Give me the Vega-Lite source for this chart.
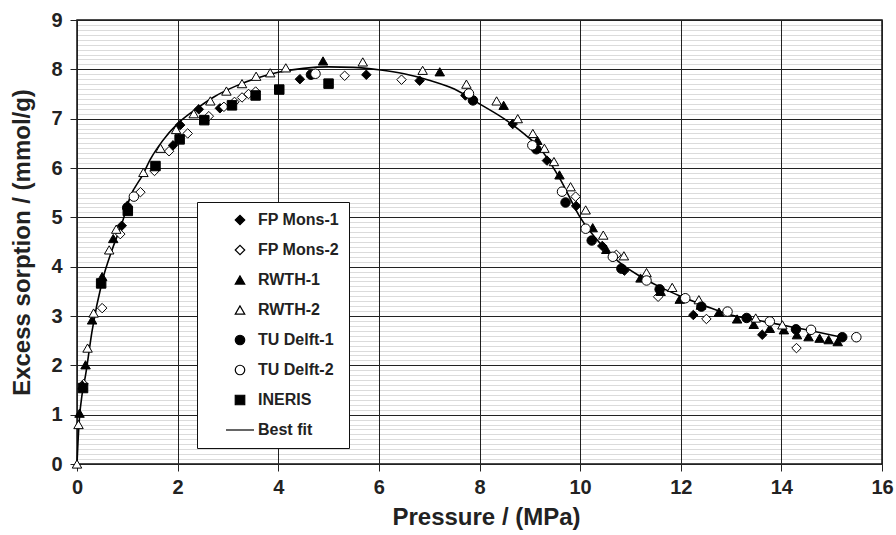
{
  "$schema": "https://vega.github.io/schema/vega-lite/v6.json",
  "width": 805,
  "height": 444,
  "autosize": {"type": "none"},
  "padding": {"left": 77, "top": 20, "right": 14, "bottom": 71},
  "background": "white",
  "config": {
    "font": "Liberation Sans",
    "view": {"stroke": "#111", "strokeWidth": 1.5},
    "axis": {
      "labelFont": "Liberation Sans", "labelFontWeight": "bold", "labelFontSize": 20, "labelColor": "#222", "labelFlush": false,
      "titleFont": "Liberation Sans", "titleFontWeight": "bold", "titleFontSize": 24, "titleColor": "#222",
      "tickColor": "#222", "tickSize": 7, "domain": false,
      "gridColor": "#222", "gridOpacity": 1, "gridWidth": 1
    },
    "legend": {
      "labelFont": "Liberation Sans", "labelFontWeight": "bold", "labelFontSize": 16, "labelColor": "#222",
      "strokeColor": "#111", "fillColor": "white", "padding": 10, "rowPadding": 14,
      "symbolSize": 90, "symbolStrokeColor": "black", "symbolStrokeWidth": 1.2, "labelOffset": 10, "symbolOffset": 25
    }
  },
  "datasets": {
    "fit": [
      {"p": 0, "q": 0}, {"p": 0.02, "q": 0.45}, {"p": 0.05, "q": 0.95}, {"p": 0.1, "q": 1.4}, {"p": 0.17, "q": 1.8},
      {"p": 0.3, "q": 2.7}, {"p": 0.5, "q": 3.7}, {"p": 0.7, "q": 4.35}, {"p": 0.9, "q": 4.9}, {"p": 1.06, "q": 5.42},
      {"p": 1.3, "q": 5.85}, {"p": 1.46, "q": 6.18}, {"p": 1.7, "q": 6.55}, {"p": 2.0, "q": 6.9}, {"p": 2.4, "q": 7.22},
      {"p": 2.72, "q": 7.44}, {"p": 3.2, "q": 7.68}, {"p": 3.6, "q": 7.83}, {"p": 4.0, "q": 7.94}, {"p": 4.5, "q": 8.02},
      {"p": 5.0, "q": 8.05}, {"p": 5.5, "q": 8.04}, {"p": 6.0, "q": 7.99}, {"p": 6.5, "q": 7.91}, {"p": 7.0, "q": 7.78},
      {"p": 7.5, "q": 7.6}, {"p": 8.0, "q": 7.3}, {"p": 8.5, "q": 6.99}, {"p": 8.9, "q": 6.68}, {"p": 9.2, "q": 6.4},
      {"p": 9.6, "q": 5.78}, {"p": 10.0, "q": 5.0}, {"p": 10.4, "q": 4.47}, {"p": 10.8, "q": 4.07}, {"p": 11.2, "q": 3.8},
      {"p": 11.6, "q": 3.58}, {"p": 12.0, "q": 3.4}, {"p": 12.5, "q": 3.2}, {"p": 13.0, "q": 3.02}, {"p": 13.5, "q": 2.92},
      {"p": 14.0, "q": 2.82}, {"p": 14.5, "q": 2.72}, {"p": 15.2, "q": 2.57}
    ],
    "points": [
      {"series": "FP Mons-1", "p": 0.89, "q": 4.83}, {"series": "FP Mons-1", "p": 1.91, "q": 6.46}, {"series": "FP Mons-1", "p": 2.05, "q": 6.87},
      {"series": "FP Mons-1", "p": 2.42, "q": 7.19}, {"series": "FP Mons-1", "p": 2.84, "q": 7.21}, {"series": "FP Mons-1", "p": 4.43, "q": 7.8},
      {"series": "FP Mons-1", "p": 5.75, "q": 7.89}, {"series": "FP Mons-1", "p": 6.81, "q": 7.77}, {"series": "FP Mons-1", "p": 7.72, "q": 7.47},
      {"series": "FP Mons-1", "p": 8.66, "q": 6.89}, {"series": "FP Mons-1", "p": 9.34, "q": 6.15}, {"series": "FP Mons-1", "p": 9.92, "q": 5.23},
      {"series": "FP Mons-1", "p": 10.44, "q": 4.42}, {"series": "FP Mons-1", "p": 10.88, "q": 3.92}, {"series": "FP Mons-1", "p": 12.25, "q": 3.02},
      {"series": "FP Mons-1", "p": 13.62, "q": 2.62},

      {"series": "FP Mons-2", "p": 0.13, "q": 1.62}, {"series": "FP Mons-2", "p": 0.5, "q": 3.16}, {"series": "FP Mons-2", "p": 0.86, "q": 4.66},
      {"series": "FP Mons-2", "p": 1.26, "q": 5.51}, {"series": "FP Mons-2", "p": 1.54, "q": 5.94}, {"series": "FP Mons-2", "p": 1.83, "q": 6.34},
      {"series": "FP Mons-2", "p": 2.2, "q": 6.7}, {"series": "FP Mons-2", "p": 2.62, "q": 7.05}, {"series": "FP Mons-2", "p": 2.92, "q": 7.24},
      {"series": "FP Mons-2", "p": 3.13, "q": 7.34}, {"series": "FP Mons-2", "p": 3.28, "q": 7.43}, {"series": "FP Mons-2", "p": 3.41, "q": 7.5},
      {"series": "FP Mons-2", "p": 3.55, "q": 7.55}, {"series": "FP Mons-2", "p": 5.32, "q": 7.87}, {"series": "FP Mons-2", "p": 6.45, "q": 7.79},
      {"series": "FP Mons-2", "p": 9.91, "q": 5.42}, {"series": "FP Mons-2", "p": 10.72, "q": 4.24}, {"series": "FP Mons-2", "p": 11.55, "q": 3.39},
      {"series": "FP Mons-2", "p": 12.51, "q": 2.94}, {"series": "FP Mons-2", "p": 14.3, "q": 2.35},

      {"series": "RWTH-1", "p": 0.05, "q": 1.03}, {"series": "RWTH-1", "p": 0.11, "q": 1.6}, {"series": "RWTH-1", "p": 0.17, "q": 2.01},
      {"series": "RWTH-1", "p": 0.3, "q": 2.92}, {"series": "RWTH-1", "p": 0.5, "q": 3.8}, {"series": "RWTH-1", "p": 0.72, "q": 4.57},
      {"series": "RWTH-1", "p": 1.0, "q": 5.25}, {"series": "RWTH-1", "p": 4.89, "q": 8.17}, {"series": "RWTH-1", "p": 7.21, "q": 7.95},
      {"series": "RWTH-1", "p": 8.48, "q": 7.27}, {"series": "RWTH-1", "p": 9.15, "q": 6.56}, {"series": "RWTH-1", "p": 9.59, "q": 5.86},
      {"series": "RWTH-1", "p": 10.25, "q": 4.79}, {"series": "RWTH-1", "p": 10.52, "q": 4.35}, {"series": "RWTH-1", "p": 11.2, "q": 3.77},
      {"series": "RWTH-1", "p": 11.6, "q": 3.5}, {"series": "RWTH-1", "p": 11.98, "q": 3.34}, {"series": "RWTH-1", "p": 12.4, "q": 3.22},
      {"series": "RWTH-1", "p": 12.76, "q": 3.08}, {"series": "RWTH-1", "p": 13.12, "q": 2.94}, {"series": "RWTH-1", "p": 13.45, "q": 2.83},
      {"series": "RWTH-1", "p": 13.77, "q": 2.75}, {"series": "RWTH-1", "p": 14.05, "q": 2.72}, {"series": "RWTH-1", "p": 14.31, "q": 2.62},
      {"series": "RWTH-1", "p": 14.54, "q": 2.58}, {"series": "RWTH-1", "p": 14.76, "q": 2.55}, {"series": "RWTH-1", "p": 14.94, "q": 2.52},
      {"series": "RWTH-1", "p": 15.12, "q": 2.48},

      {"series": "RWTH-2", "p": 0, "q": 0}, {"series": "RWTH-2", "p": 0.03, "q": 0.8}, {"series": "RWTH-2", "p": 0.21, "q": 2.35},
      {"series": "RWTH-2", "p": 0.33, "q": 3.06}, {"series": "RWTH-2", "p": 0.64, "q": 4.34}, {"series": "RWTH-2", "p": 0.78, "q": 4.76},
      {"series": "RWTH-2", "p": 1.32, "q": 5.91}, {"series": "RWTH-2", "p": 1.66, "q": 6.4}, {"series": "RWTH-2", "p": 1.97, "q": 6.78},
      {"series": "RWTH-2", "p": 2.32, "q": 7.1}, {"series": "RWTH-2", "p": 2.65, "q": 7.36}, {"series": "RWTH-2", "p": 2.97, "q": 7.56},
      {"series": "RWTH-2", "p": 3.28, "q": 7.71}, {"series": "RWTH-2", "p": 3.56, "q": 7.86}, {"series": "RWTH-2", "p": 3.84, "q": 7.93},
      {"series": "RWTH-2", "p": 4.15, "q": 8.03}, {"series": "RWTH-2", "p": 5.68, "q": 8.15}, {"series": "RWTH-2", "p": 6.87, "q": 7.98},
      {"series": "RWTH-2", "p": 7.74, "q": 7.7}, {"series": "RWTH-2", "p": 8.34, "q": 7.36}, {"series": "RWTH-2", "p": 8.76, "q": 7.0},
      {"series": "RWTH-2", "p": 9.06, "q": 6.7}, {"series": "RWTH-2", "p": 9.29, "q": 6.4}, {"series": "RWTH-2", "p": 9.48, "q": 6.13},
      {"series": "RWTH-2", "p": 9.81, "q": 5.62}, {"series": "RWTH-2", "p": 10.11, "q": 5.15}, {"series": "RWTH-2", "p": 10.46, "q": 4.64},
      {"series": "RWTH-2", "p": 10.87, "q": 4.22}, {"series": "RWTH-2", "p": 11.32, "q": 3.88}, {"series": "RWTH-2", "p": 11.83, "q": 3.58},
      {"series": "RWTH-2", "p": 12.36, "q": 3.33}, {"series": "RWTH-2", "p": 13.49, "q": 2.96}, {"series": "RWTH-2", "p": 14.02, "q": 2.82},

      {"series": "TU Delft-1", "p": 1.0, "q": 5.2}, {"series": "TU Delft-1", "p": 4.65, "q": 7.89}, {"series": "TU Delft-1", "p": 7.87, "q": 7.37},
      {"series": "TU Delft-1", "p": 9.13, "q": 6.38}, {"series": "TU Delft-1", "p": 9.71, "q": 5.3}, {"series": "TU Delft-1", "p": 10.23, "q": 4.53},
      {"series": "TU Delft-1", "p": 10.82, "q": 3.96}, {"series": "TU Delft-1", "p": 11.58, "q": 3.54}, {"series": "TU Delft-1", "p": 12.41, "q": 3.19},
      {"series": "TU Delft-1", "p": 13.31, "q": 2.96}, {"series": "TU Delft-1", "p": 14.29, "q": 2.73}, {"series": "TU Delft-1", "p": 15.21, "q": 2.57},

      {"series": "TU Delft-2", "p": 1.13, "q": 5.42}, {"series": "TU Delft-2", "p": 4.74, "q": 7.91}, {"series": "TU Delft-2", "p": 7.79, "q": 7.51},
      {"series": "TU Delft-2", "p": 9.05, "q": 6.46}, {"series": "TU Delft-2", "p": 9.64, "q": 5.52}, {"series": "TU Delft-2", "p": 10.11, "q": 4.77},
      {"series": "TU Delft-2", "p": 10.65, "q": 4.2}, {"series": "TU Delft-2", "p": 11.32, "q": 3.72}, {"series": "TU Delft-2", "p": 12.09, "q": 3.36},
      {"series": "TU Delft-2", "p": 12.93, "q": 3.09}, {"series": "TU Delft-2", "p": 13.77, "q": 2.89}, {"series": "TU Delft-2", "p": 14.59, "q": 2.72},
      {"series": "TU Delft-2", "p": 15.49, "q": 2.57},

      {"series": "INERIS", "p": 0.12, "q": 1.54}, {"series": "INERIS", "p": 0.48, "q": 3.66}, {"series": "INERIS", "p": 1.01, "q": 5.13},
      {"series": "INERIS", "p": 1.56, "q": 6.04}, {"series": "INERIS", "p": 2.04, "q": 6.58}, {"series": "INERIS", "p": 2.53, "q": 6.97},
      {"series": "INERIS", "p": 3.08, "q": 7.27}, {"series": "INERIS", "p": 3.55, "q": 7.47}, {"series": "INERIS", "p": 4.02, "q": 7.59},
      {"series": "INERIS", "p": 5.0, "q": 7.71}
    ]
  },
  "layer": [
    {
      "data": {"name": "fit"},
      "mark": {"type": "line", "color": "black", "strokeWidth": 1.6, "interpolate": "monotone"},
      "encoding": {
        "x": {"field": "p", "type": "quantitative", "scale": {"domain": [0, 16], "nice": false},
              "axis": {"values": [0, 2, 4, 6, 8, 10, 12, 14, 16], "title": "Pressure / (MPa)", "grid": true, "labelPadding": 6, "titlePadding": 8, "titleX": 409}},
        "y": {"field": "q", "type": "quantitative", "scale": {"domain": [0, 9], "nice": false},
              "axis": {"orient": "left", "values": [0, 1, 2, 3, 4, 5, 6, 7, 8, 9], "title": "Excess sorption / (mmol/g)", "grid": true, "labelPadding": 8, "titlePadding": 16}}
      }
    },
    {
      "data": {"name": "points"},
      "mark": {"type": "point", "filled": true, "size": 90, "strokeWidth": 1, "opacity": 1},
      "encoding": {
        "x": {"field": "p", "type": "quantitative", "scale": {"domain": [0, 16], "nice": false},
              "axis": {"values": [0, 2, 4, 6, 8, 10, 12, 14, 16], "title": "Pressure / (MPa)", "grid": true, "labelPadding": 6, "titlePadding": 8, "titleX": 409}},
        "y": {"field": "q", "type": "quantitative", "scale": {"domain": [0, 9], "nice": false},
              "axis": {"orient": "left", "title": null, "labels": false, "ticks": false, "domain": false, "grid": true, "gridColor": "#000", "gridOpacity": 0.14,
                       "values": [0.1, 0.2, 0.3, 0.4, 0.5, 0.6, 0.7, 0.8, 0.9, 1.1, 1.2, 1.3, 1.4, 1.5, 1.6, 1.7, 1.8, 1.9, 2.1, 2.2, 2.3, 2.4, 2.5, 2.6, 2.7, 2.8, 2.9, 3.1, 3.2, 3.3, 3.4, 3.5, 3.6, 3.7, 3.8, 3.9, 4.1, 4.2, 4.3, 4.4, 4.5, 4.6, 4.7, 4.8, 4.9, 5.1, 5.2, 5.3, 5.4, 5.5, 5.6, 5.7, 5.8, 5.9, 6.1, 6.2, 6.3, 6.4, 6.5, 6.6, 6.7, 6.8, 6.9, 7.1, 7.2, 7.3, 7.4, 7.5, 7.6, 7.7, 7.8, 7.9, 8.1, 8.2, 8.3, 8.4, 8.5, 8.6, 8.7, 8.8, 8.9]}},
        "shape": {"field": "series", "type": "nominal",
                  "scale": {"domain": ["FP Mons-1", "FP Mons-2", "RWTH-1", "RWTH-2", "TU Delft-1", "TU Delft-2", "INERIS", "Best fit"],
                            "range": ["diamond", "diamond", "triangle-up", "triangle-up", "circle", "circle", "square", "M-2.95,0L2.95,0"]},
                  "legend": {"title": null, "orient": "none", "legendX": 120, "legendY": 182, "labelExpr": "datum.label + '\u00a0\u00a0\u00a0\u00a0'"}},
        "fill": {"field": "series", "type": "nominal",
                 "scale": {"domain": ["FP Mons-1", "FP Mons-2", "RWTH-1", "RWTH-2", "TU Delft-1", "TU Delft-2", "INERIS", "Best fit"],
                           "range": ["black", "white", "black", "white", "black", "white", "black", "transparent"]},
                 "legend": {"title": null, "orient": "none", "legendX": 120, "legendY": 182, "labelExpr": "datum.label + '\u00a0\u00a0\u00a0\u00a0'"}},
        "stroke": {"field": "series", "type": "nominal",
                   "scale": {"domain": ["FP Mons-1", "FP Mons-2", "RWTH-1", "RWTH-2", "TU Delft-1", "TU Delft-2", "INERIS", "Best fit"],
                             "range": ["black", "black", "black", "black", "black", "black", "black", "black"]},
                   "legend": {"title": null, "orient": "none", "legendX": 120, "legendY": 182, "labelExpr": "datum.label + '\u00a0\u00a0\u00a0\u00a0'"}}
      }
    }
  ],
  "resolve": {"axis": {"y": "independent"}}
}
